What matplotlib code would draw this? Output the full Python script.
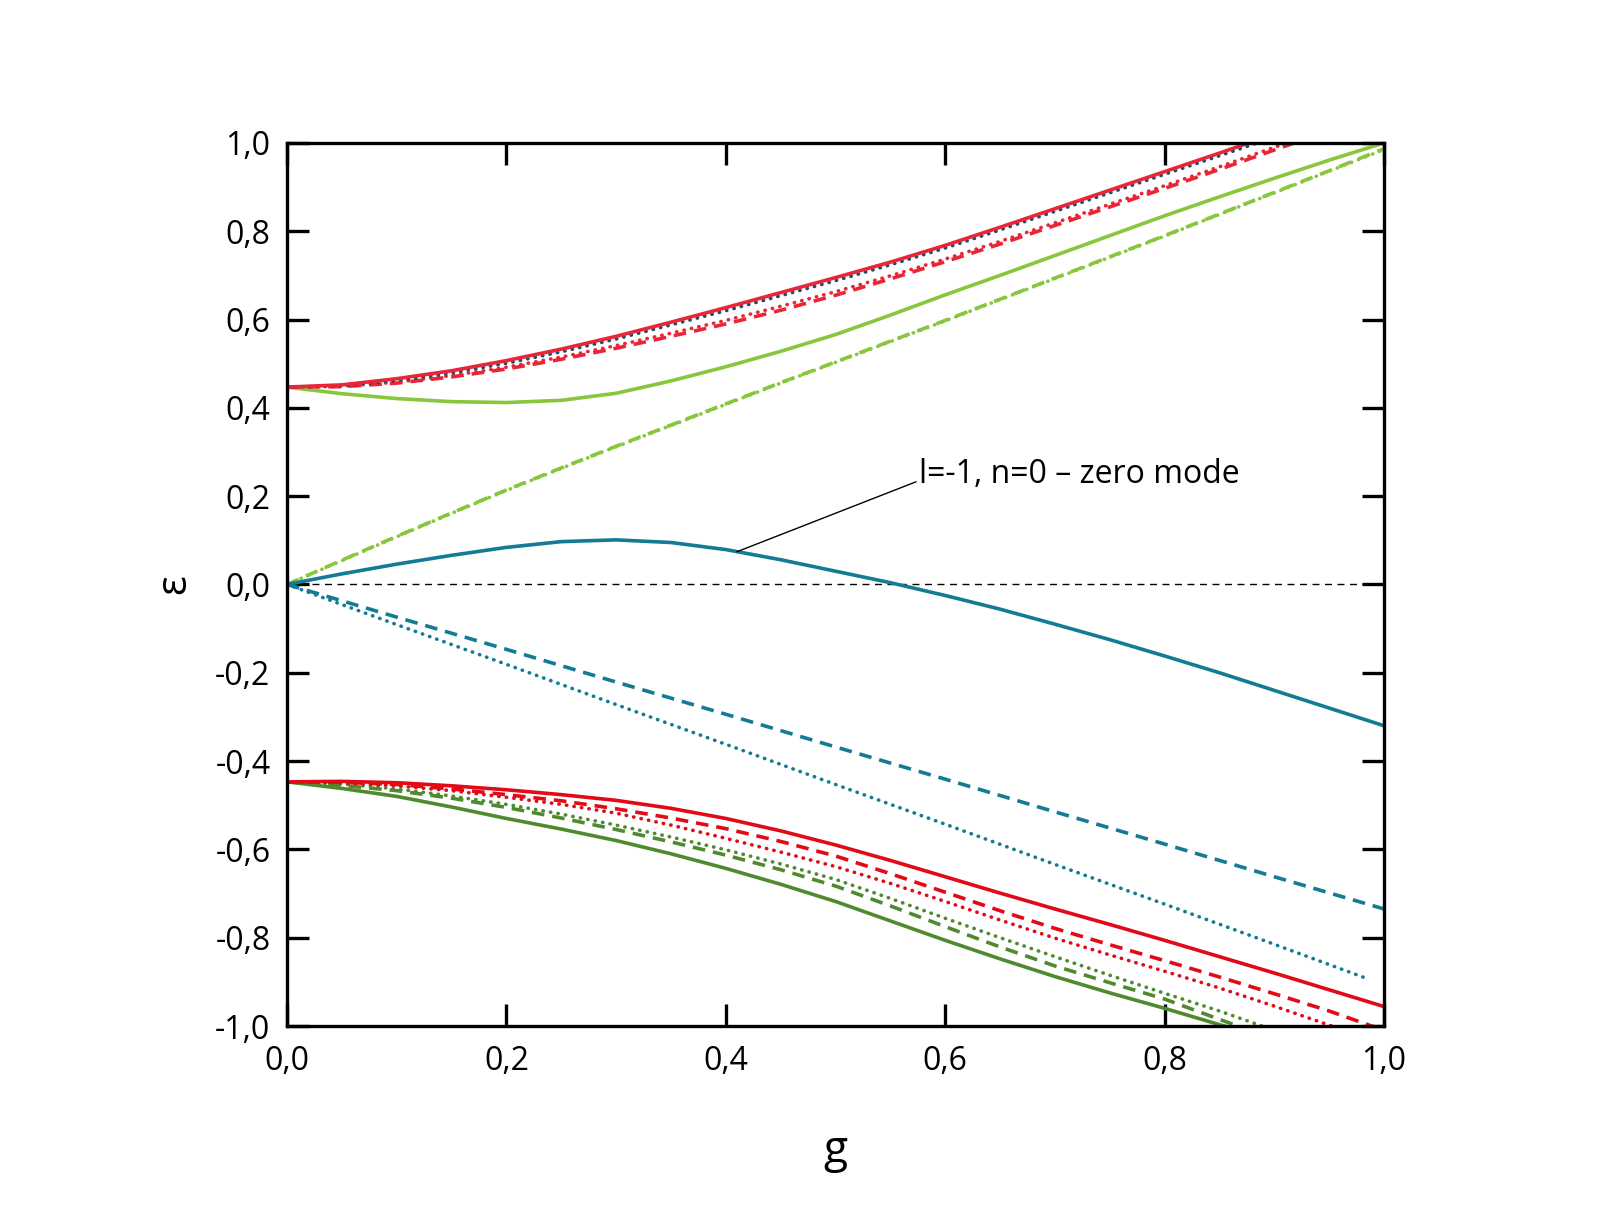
import matplotlib.pyplot as plt
from matplotlib.ticker import FuncFormatter, MultipleLocator

plt.rcParams['font.family'] = ['Open Sans', 'DejaVu Sans']

# coupling grid
g = [0.0, 0.05, 0.1, 0.15, 0.2, 0.25, 0.3, 0.35, 0.4, 0.45, 0.5,
     0.55, 0.6, 0.65, 0.7, 0.75, 0.8, 0.85, 0.9, 0.95, 1.0]

# upper branch
up_red_solid = [0.447, 0.452, 0.466, 0.484, 0.507, 0.533, 0.562, 0.594, 0.627, 0.661, 0.695,
                0.730, 0.768, 0.809, 0.851, 0.893, 0.935, 0.977, 1.02, 1.06, 1.10]
up_navy_dot = [0.447, 0.450, 0.462, 0.479, 0.501, 0.527, 0.556, 0.588, 0.620, 0.654, 0.688,
               0.724, 0.762, 0.803, 0.845, 0.887, 0.929, 0.971, 1.013, 1.055, 1.10]
up_red_dot = [0.447, 0.449, 0.458, 0.473, 0.492, 0.515, 0.541, 0.569, 0.598, 0.630, 0.663,
              0.699, 0.737, 0.777, 0.819, 0.861, 0.903, 0.946, 0.990, 1.035, 1.08]
up_red_dash = [0.447, 0.448, 0.456, 0.470, 0.488, 0.510, 0.535, 0.562, 0.590, 0.621, 0.655,
               0.692, 0.731, 0.771, 0.813, 0.855, 0.897, 0.940, 0.984, 1.028, 1.07]
up_lg_solid = [0.447, 0.432, 0.421, 0.414, 0.412, 0.417, 0.433, 0.461, 0.493, 0.528, 0.566,
               0.610, 0.656, 0.700, 0.745, 0.790, 0.835, 0.878, 0.920, 0.961, 1.0]
up_lg_dash = [0.0, 0.055, 0.109, 0.162, 0.214, 0.264, 0.313, 0.361, 0.409, 0.457, 0.504,
              0.551, 0.598, 0.646, 0.694, 0.742, 0.790, 0.839, 0.888, 0.937, 0.987]
up_lg_dot = [0.0, 0.054, 0.108, 0.161, 0.213, 0.263, 0.312, 0.360, 0.408, 0.456, 0.503,
             0.550, 0.597, 0.645, 0.693, 0.741, 0.789, 0.838, 0.887, 0.936, 0.985]

# middle branch
mid_solid = [0.0, 0.024, 0.046, 0.066, 0.084, 0.097, 0.101, 0.095, 0.079, 0.056, 0.030,
             0.004, -0.025, -0.056, -0.090, -0.125, -0.162, -0.200, -0.240, -0.280, -0.320]
mid_dash = [0.0, -0.074, -0.147, -0.221, -0.294, -0.368, -0.441, -0.515, -0.588, -0.662, -0.735]
g_mid_dash = [0.0, 0.1, 0.2, 0.3, 0.4, 0.5, 0.6, 0.7, 0.8, 0.9, 1.0]
mid_dot = [0.0, -0.091, -0.181, -0.272, -0.362, -0.453, -0.543, -0.634, -0.724, -0.815, -0.893]
g_mid_dot = [0.0, 0.1, 0.2, 0.3, 0.4, 0.5, 0.6, 0.7, 0.8, 0.9, 0.985]

# lower branch
lo_red_solid = [-0.447, -0.446, -0.449, -0.456, -0.465, -0.476, -0.489, -0.507, -0.530, -0.558, -0.590,
                -0.625, -0.662, -0.699, -0.735, -0.770, -0.806, -0.843, -0.880, -0.918, -0.956]
lo_red_dash = [-0.447, -0.448, -0.453, -0.463, -0.476, -0.490, -0.508, -0.529, -0.553, -0.582, -0.615,
               -0.655, -0.697, -0.739, -0.779, -0.816, -0.852, -0.889, -0.927, -0.966, -1.01]
lo_red_dot = [-0.447, -0.449, -0.456, -0.467, -0.482, -0.498, -0.518, -0.545, -0.575, -0.606, -0.639,
              -0.677, -0.718, -0.760, -0.801, -0.839, -0.876, -0.914, -0.955, -0.998, -1.04]
lo_dg_dot = [-0.447, -0.452, -0.463, -0.479, -0.498, -0.520, -0.545, -0.572, -0.601, -0.633, -0.668,
             -0.711, -0.756, -0.800, -0.843, -0.885, -0.926, -0.966, -1.01]
lo_dg_dash = [-0.447, -0.455, -0.467, -0.484, -0.505, -0.529, -0.555, -0.583, -0.613, -0.646, -0.683,
              -0.728, -0.775, -0.821, -0.864, -0.902, -0.939, -0.985, -1.03]
lo_dg_solid = [-0.447, -0.462, -0.480, -0.504, -0.530, -0.554, -0.580, -0.610, -0.643, -0.679, -0.718,
               -0.762, -0.806, -0.848, -0.888, -0.925, -0.960, -0.997, -1.03]

red_up = '#ea2636'
red_lo = '#e10a16'
navy = '#1d4f6e'
light_green = '#88c63c'
dark_green = '#4f8a2f'
teal = '#137b93'

dash = (0, (3.5, 2.2))
dot = (0, (0.1, 2.0))

fig = plt.figure(figsize=(16.09, 12.32), dpi=100)
ax = fig.add_axes([0.1784, 0.1672, 0.6818, 0.7168])

lw = 2.6
kw_dot = dict(dash_capstyle='round', solid_capstyle='round')
n = len(lo_dg_solid)

ax.axhline(0, color='black', lw=1.0, ls=(0, (5, 4)), zorder=1)

ax.plot(g, up_lg_dash, color=light_green, lw=lw, ls=dash)
ax.plot(g, up_lg_dot, color=light_green, lw=lw, ls=dot, **kw_dot)
ax.plot(g, up_lg_solid, color=light_green, lw=lw)
ax.plot(g, up_red_dash, color=red_up, lw=lw, ls=dash)
ax.plot(g, up_red_dot, color=red_up, lw=lw, ls=dot, **kw_dot)
ax.plot(g, up_navy_dot, color=navy, lw=lw, ls=dot, **kw_dot)
ax.plot(g, up_red_solid, color=red_up, lw=lw)

ax.plot(g, mid_solid, color=teal, lw=lw)
ax.plot(g_mid_dash, mid_dash, color=teal, lw=lw, ls=dash)
ax.plot(g_mid_dot, mid_dot, color=teal, lw=lw, ls=dot, **kw_dot)

ax.plot(g[:n], lo_dg_solid, color=dark_green, lw=lw)
ax.plot(g[:n], lo_dg_dash, color=dark_green, lw=lw, ls=dash)
ax.plot(g[:n], lo_dg_dot, color=dark_green, lw=lw, ls=dot, **kw_dot)
ax.plot(g, lo_red_dot, color=red_lo, lw=lw, ls=dot, **kw_dot)
ax.plot(g, lo_red_dash, color=red_lo, lw=lw, ls=dash)
ax.plot(g, lo_red_solid, color=red_lo, lw=lw)

ax.annotate('l=-1, n=0 – zero mode', xy=(0.41, 0.074), xytext=(0.576, 0.25),
            fontsize=23, va='center', ha='left',
            arrowprops=dict(arrowstyle='-', color='black', lw=1.0,
                            shrinkA=0, shrinkB=0, relpos=(0, 0.3)))

ax.set_xlim(0, 1)
ax.set_ylim(-1, 1)
ax.xaxis.set_major_locator(MultipleLocator(0.2))
ax.yaxis.set_major_locator(MultipleLocator(0.2))
fmt = FuncFormatter(lambda v, p: f'{v:.1f}'.replace('.', ',').replace('-0,0', '0,0'))
ax.xaxis.set_major_formatter(fmt)
ax.yaxis.set_major_formatter(fmt)
ax.tick_params(direction='in', length=16, width=2.4, labelsize=23,
               top=True, right=True)
ax.tick_params(axis='x', pad=14)
ax.tick_params(axis='y', pad=12)
for s in ax.spines.values():
    s.set_linewidth(2.4)

ax.set_xlabel('g', fontsize=32, labelpad=36)
ax.set_ylabel('ε', fontsize=30, labelpad=14)

fig.savefig('out.png', dpi=100)
